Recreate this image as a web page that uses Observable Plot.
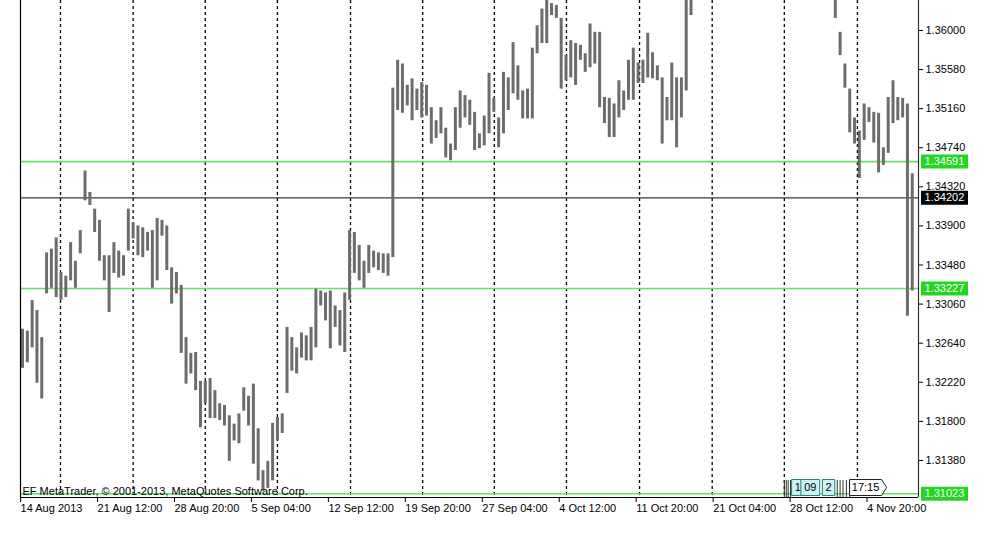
<!DOCTYPE html>
<html><head><meta charset="utf-8">
<script src="https://cdn.jsdelivr.net/npm/d3@7"></script>
<script src="https://cdn.jsdelivr.net/npm/@observablehq/plot@0.6"></script>
<style>body{margin:0;background:#fff} svg{display:block}</style>
</head><body><div id="chart"></div>
<script>
// EURUSD bars (8h bars), high and low prices
const highs = [
1.3279,1.3277,1.3310,1.3299,1.3270,1.3361,1.3365,1.3377,1.3340,1.3336,
1.3372,1.3352,1.3385,1.3449,1.3426,1.3408,1.3396,1.3358,1.3358,1.3372,
1.3363,1.3358,1.3408,1.3393,1.3390,1.3388,1.3383,1.3385,1.3398,1.3396,
1.3390,1.3345,1.3340,1.3326,1.3270,1.3253,1.3254,1.3223,1.3223,1.3226,
1.3213,1.3199,1.3197,1.3186,1.3177,1.3188,1.3216,1.3207,1.3220,1.3172,
1.3127,1.3137,1.3178,1.3184,1.3188,1.3281,1.3270,1.3259,1.3275,1.3272,
1.3281,1.3322,1.3320,1.3318,1.3320,1.3304,1.3299,1.3318,1.3385,1.3383,
1.3369,1.3352,1.3369,1.3363,1.3361,1.3360,1.3360,1.3538,1.3568,1.3564,
1.3541,1.3548,1.3537,1.3544,1.3541,1.3517,1.3503,1.3517,1.3495,1.3478,
1.3517,1.3535,1.3530,1.3525,1.3512,1.3489,1.3508,1.3554,1.3527,1.3506,
1.3555,1.3549,1.3587,1.3562,1.3535,1.3537,1.3581,1.3605,1.3623,1.3634,
1.3629,1.3627,1.3613,1.3573,1.3589,1.3586,1.3584,1.3575,1.3607,1.3598,
1.3598,1.3528,1.3527,1.3521,1.3546,1.3535,1.3568,1.3581,1.3565,1.3568,
1.3597,1.3576,1.3562,1.3549,1.3528,1.3565,1.3549,1.3549,1.3654,1.3675,
1.3690,1.3698,1.3705,1.3712,1.3735,1.3760,1.3785,1.3790,1.3796,1.3788,
1.3800,1.3815,1.3832,1.3825,1.3810,1.3795,1.3790,1.3785,1.3770,1.3779,
1.3760,1.3752,1.3740,1.3725,1.3720,1.3710,1.3700,1.3688,1.3670,1.3655,
1.3598,1.3564,1.3537,1.3506,1.3492,1.3521,1.3517,1.3512,1.3511,1.3474,
1.3528,1.3546,1.3528,1.3527,1.3521,1.3446
];
const lows = [
1.3237,1.3243,1.3259,1.3221,1.3204,1.3317,1.3323,1.3313,1.3310,1.3313,
1.3331,1.3323,1.3360,1.3417,1.3412,1.3383,1.3352,1.3331,1.3297,1.3339,
1.3334,1.3336,1.3363,1.3376,1.3358,1.3356,1.3363,1.3323,1.3331,1.3379,
1.3342,1.3306,1.3317,1.3253,1.3220,1.3231,1.3213,1.3173,1.3199,1.3183,
1.3183,1.3181,1.3175,1.3137,1.3159,1.3156,1.3191,1.3175,1.3134,1.3116,
1.3105,1.3108,1.3116,1.3159,1.3167,1.3210,1.3234,1.3231,1.3248,1.3245,
1.3245,1.3259,1.3304,1.3288,1.3258,1.3281,1.3261,1.3254,1.3310,1.3339,
1.3331,1.3323,1.3339,1.3345,1.3342,1.3339,1.3336,1.3356,1.3514,1.3511,
1.3519,1.3503,1.3514,1.3506,1.3508,1.3478,1.3484,1.3489,1.3463,1.3460,
1.3471,1.3495,1.3506,1.3498,1.3471,1.3473,1.3476,1.3489,1.3512,1.3474,
1.3489,1.3514,1.3532,1.3525,1.3505,1.3505,1.3505,1.3575,1.3586,1.3586,
1.3616,1.3613,1.3537,1.3546,1.3549,1.3541,1.3568,1.3555,1.3560,1.3564,
1.3517,1.3500,1.3485,1.3485,1.3506,1.3514,1.3525,1.3525,1.3543,1.3543,
1.3549,1.3548,1.3546,1.3478,1.3503,1.3503,1.3474,1.3506,1.3535,1.3616,
1.3650,1.3662,1.3672,1.3680,1.3690,1.3720,1.3740,1.3762,1.3770,1.3765,
1.3772,1.3785,1.3800,1.3795,1.3782,1.3760,1.3765,1.3750,1.3742,1.3745,
1.3730,1.3715,1.3708,1.3690,1.3688,1.3675,1.3660,1.3648,1.3638,1.3613,
1.3573,1.3538,1.3490,1.3478,1.3441,1.3482,1.3501,1.3479,1.3447,1.3455,
1.3468,1.3500,1.3503,1.3506,1.3293,1.3320
];

const yTicks = [1.36000,1.35580,1.35160,1.34740,1.34320,1.33900,1.33480,1.33060,1.32640,1.32220,1.31800,1.31380];
const tickBars = [-0.4,15.6,31.6,47.6,63.6,79.6,95.6,111.6,127.6,143.6,159.6,175.6];
const tickLabels = ["14 Aug 2013","21 Aug 12:00","28 Aug 20:00","5 Sep 04:00","12 Sep 12:00","19 Sep 20:00","27 Sep 04:00","4 Oct 12:00","11 Oct 20:00","21 Oct 04:00","28 Oct 12:00","4 Nov 20:00"];
const gridBars = [7.9,23.0,38.0,53.0,68.2,83.2,98.1,113.1,128.3,143.4,158.4,173.6];

const levelPrices = [1.34591, 1.34202, 1.33227, 1.31023];
const levelKinds  = ["hline", "bid", "hline", "hline"];

const eventBars   = [161.2, 163.8, 167.6, 175.3];
const eventLabels = ["1", "09", "2", "17:15"];
const eventTicks  = [158.4, 158.8, 159.2, 159.7, 169.4, 170.0, 170.6, 171.3, 172.0];

const copyright = "EF MetaTrader, \u00a9 2001-2013, MetaQuotes Software Corp.";

const xDomain = [-0.42, 186.3];
const yDomain = [1.30982, 1.36322];

const bars = highs.map((h, i) => ({i, high: h, low: lows[i]}));
const levels = levelPrices.map((p, i) => ({price: p, kind: levelKinds[i], label: p.toFixed(5)}));
const events = eventBars.map((b, i) => ({bar: b, label: eventLabels[i]}));
const labelOf = new Map(tickBars.map((b, i) => [b, tickLabels[i]]));

const GREEN_LINE = "#66e066", GREEN_TAG = "#22d622";

// custom symbols: rectangle (half-width = r) and arrow-tag
const tagRect = (h) => ({draw(ctx, size) { const r = Math.sqrt(size / Math.PI); ctx.rect(-r, -h / 2, 2 * r, h); }});
const tagArrow = (h) => ({draw(ctx, size) { const r = Math.sqrt(size / Math.PI) - 3;
  ctx.moveTo(-r, -h / 2); ctx.lineTo(r, -h / 2); ctx.lineTo(r + 5, 0); ctx.lineTo(r, h / 2); ctx.lineTo(-r, h / 2); ctx.closePath(); }});

const eventBoxes = events.map((ev, i) => {
  const last = i === events.length - 1;
  return Plot.dot([ev], {
    x: "bar", frameAnchor: "bottom", dy: -10,
    r: ev.label.length * 3.2 + 3,
    symbol: last ? tagArrow(16) : tagRect(16),
    fill: last ? "white" : "#c8f4f4", stroke: last ? "#222" : "#2a7f7f", strokeWidth: 1
  });
});

const chart = Plot.plot({
  width: 1001, height: 538,
  marginLeft: 20, marginRight: 83, marginTop: 0, marginBottom: 41,
  style: {fontFamily: "'Liberation Sans', Arial, sans-serif", fontSize: "11px", background: "white", color: "black"},
  x: {domain: xDomain, axis: null},
  y: {domain: yDomain, axis: null},
  marks: [
    Plot.ruleX(gridBars, {stroke: "black", strokeWidth: 1.3, strokeDasharray: "3,3"}),
    Plot.ruleY(levels, {y: "price", stroke: d => d.kind === "bid" ? "#3a3a3a" : GREEN_LINE, strokeWidth: d => d.kind === "bid" ? 1.2 : 1.6, clip: true}),
    Plot.ruleX(bars, {x: "i", y1: "low", y2: "high", stroke: "#6c6c6c", strokeWidth: 3, clip: true}),
    Plot.ruleX(eventTicks, {insetTop: 480, stroke: "#333", strokeWidth: 1}),
    Plot.text([copyright], {frameAnchor: "bottom-left", textAnchor: "start", lineAnchor: "bottom", dx: 2, dy: -3, fill: "black", fontSize: 11}),
    Plot.ruleX([xDomain[0]], {stroke: "black", strokeWidth: 1.2}),
    Plot.ruleX([xDomain[1]], {stroke: "#333", strokeWidth: 1.2}),
    Plot.ruleY([yDomain[0]], {stroke: "black", strokeWidth: 1.2}),
    Plot.axisY(yTicks, {anchor: "right", tickSize: 4, tickPadding: 3, tickFormat: d => d.toFixed(5), fontSize: 11}),
    Plot.axisX(tickBars, {anchor: "bottom", tickSize: 5, tickPadding: 2, textAnchor: "start", tickFormat: d => labelOf.get(d), fontSize: 11}),
    ...eventBoxes,
    Plot.text(events, {x: "bar", frameAnchor: "bottom", lineAnchor: "middle", dy: -10, text: "label", fill: "black", fontSize: 11}),
    Plot.dot(levels, {y: "price", frameAnchor: "right", dx: 26, r: 23.5, symbol: tagRect(14),
      fill: d => d.kind === "bid" ? "black" : GREEN_TAG, stroke: "none"}),
    Plot.text(levels, {y: "price", frameAnchor: "right", textAnchor: "start", dx: 6, text: "label", fill: "white", fontSize: 11})
  ]
});
document.getElementById("chart").appendChild(chart);
</script>
</body></html>
